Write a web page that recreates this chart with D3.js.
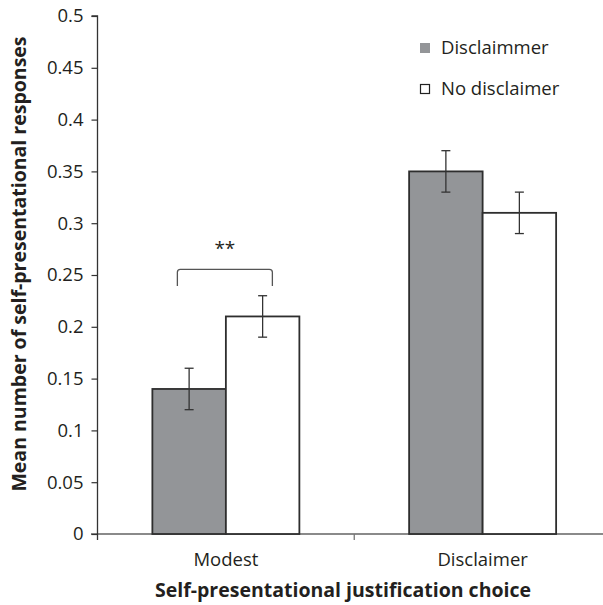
<!DOCTYPE html>
<html>
<head>
<meta charset="utf-8">
<script src="https://cdn.jsdelivr.net/npm/d3@7"></script>
<style>
  html, body { margin: 0; padding: 0; background: #fff; }
  svg { display: block; font-family: "Open Sans", "Noto Sans", sans-serif; }
</style>
</head>
<body>
<svg id="chart" width="603" height="605"></svg>
<script>
// Categories, groups and means with their error margins
const categories = ["Modest", "Disclaimer"];
const groups = ["Disclaimmer", "No disclaimer"];
const disclaimerMeans = [0.14, 0.35];
const noDisclaimerMeans = [0.21, 0.31];
const disclaimerErr = [0.02, 0.02];
const noDisclaimerErr = [0.02, 0.02];
const yTicks = [0, 0.05, 0.1, 0.15, 0.2, 0.25, 0.3, 0.35, 0.4, 0.45, 0.5];
const yTickLabels = ["0", "0.05", "0.1", "0.15", "0.2", "0.25", "0.3", "0.35", "0.4", "0.45", "0.5"];

const rows = categories.map((c, i) => ({
  category: c,
  values: [
    { group: groups[0], mean: disclaimerMeans[i], err: disclaimerErr[i] },
    { group: groups[1], mean: noDisclaimerMeans[i], err: noDisclaimerErr[i] }
  ]
}));

const svg = d3.select("#chart");
const fills = { [groups[0]]: "#939598", [groups[1]]: "#ffffff" };
const textColor = "#231f20";
const labelSize = 18.5;
const titleSize = 19.5;

const x0 = d3.scaleBand().domain(categories).range([97.5, 611]).paddingInner(0).paddingOuter(0);
const groupWidth = 147;
const x1 = d3.scaleBand().domain(groups).range([0, groupWidth]);
const y = d3.scaleLinear().domain([0, 0.5]).range([534, 16]);

// X axis line with category separators
const xAxisG = svg.append("g").attr("transform", "translate(0,534)");
xAxisG.append("line").attr("x1", 91).attr("x2", 611).attr("stroke", "#8a8a8a").attr("stroke-width", 2);
const separators = [x0.range()[0], x0(categories[1])];
xAxisG.selectAll("line.sep").data(separators).join("line")
  .attr("class", "sep")
  .attr("x1", d => d).attr("x2", d => d)
  .attr("y1", 0).attr("y2", 6)
  .attr("stroke", (d, i) => i === 0 ? "#333" : "#777").attr("stroke-width", 1.3);

// Category labels
svg.selectAll("text.cat").data(categories).join("text")
  .attr("class", "cat")
  .attr("x", d => x0(d) + x0.bandwidth() / 2)
  .attr("y", 566)
  .attr("text-anchor", "middle")
  .attr("font-size", labelSize)
  .attr("fill", textColor)
  .text(d => d);

// Y axis
const yAxis = d3.axisLeft(y).tickValues(yTicks).tickFormat((d, i) => yTickLabels[i]).tickSize(6).tickPadding(8);
const yAxisG = svg.append("g").attr("transform", "translate(97.5,0)").call(yAxis);
yAxisG.select(".domain").attr("stroke", "#333").attr("stroke-width", 1.3).attr("d", "M-6,16H0V534");
yAxisG.selectAll(".tick line").attr("stroke", "#333").attr("stroke-width", 1.2);
yAxisG.selectAll(".tick text").attr("font-size", labelSize).attr("fill", textColor)
  .attr("font-family", "\"Open Sans\", sans-serif");

// Bars
const barG = svg.append("g");
const cat = barG.selectAll("g.cat").data(rows).join("g")
  .attr("class", "cat")
  .attr("transform", d => `translate(${x0(d.category) + (x0.bandwidth() - groupWidth) / 2},0)`);

cat.selectAll("rect").data(d => d.values).join("rect")
  .attr("x", d => x1(d.group))
  .attr("y", d => y(d.mean))
  .attr("width", x1.bandwidth())
  .attr("height", d => y(0) - y(d.mean))
  .attr("fill", d => fills[d.group])
  .attr("stroke", "#2e2e2e")
  .attr("stroke-width", 1.8);

// Error bars
const eb = cat.selectAll("g.err").data(d => d.values).join("g")
  .attr("class", "err")
  .attr("transform", d => `translate(${x1(d.group) + x1.bandwidth() / 2},0)`);
eb.append("line")
  .attr("y1", d => y(d.mean - d.err)).attr("y2", d => y(d.mean + d.err))
  .attr("stroke", "#333").attr("stroke-width", 1.3);
eb.selectAll("line.cap").data(d => [d.mean - d.err, d.mean + d.err]).join("line")
  .attr("class", "cap")
  .attr("x1", -4.5).attr("x2", 4.5)
  .attr("y1", d => y(d)).attr("y2", d => y(d))
  .attr("stroke", "#333").attr("stroke-width", 1.3);

// Significance bracket over the Modest pair
const bx = x0(categories[0]) + (x0.bandwidth() - groupWidth) / 2;
const bLeft = bx + x1(groups[0]) + 25;
const bRight = bx + x1(groups[1]) + x1.bandwidth() - 27;
const bTop = y(0.2555);
const bBot = y(0.2395);
svg.append("path")
  .attr("d", `M${bLeft},${bBot} V${bTop + 3} Q${bLeft},${bTop} ${bLeft + 3},${bTop} H${bRight - 3} Q${bRight},${bTop} ${bRight},${bTop + 3} V${bBot}`)
  .attr("fill", "none").attr("stroke", "#555").attr("stroke-width", 1.3);
svg.append("text")
  .attr("x", (bLeft + bRight) / 2).attr("y", 255)
  .attr("text-anchor", "middle")
  .attr("font-size", 19).attr("fill", textColor)
  .text("**");

// Legend
const legend = svg.append("g");
const items = legend.selectAll("g").data(groups).join("g")
  .attr("transform", (d, i) => `translate(420,${43 + i * 41})`);
items.append("rect")
  .attr("x", (d, i) => i === 0 ? 0 : 0.5)
  .attr("y", (d, i) => i === 0 ? 0 : 0.5)
  .attr("width", (d, i) => i === 0 ? 10 : 9)
  .attr("height", (d, i) => i === 0 ? 10 : 9)
  .attr("fill", d => fills[d])
  .attr("stroke", (d, i) => i === 0 ? "none" : "#222")
  .attr("stroke-width", 1.2);
items.append("text")
  .attr("x", 21).attr("y", 11)
  .attr("font-size", labelSize).attr("fill", textColor)
  .text(d => d);

// Axis titles
svg.append("text")
  .attr("x", 343).attr("y", 597)
  .attr("text-anchor", "middle")
  .attr("font-size", titleSize).attr("font-weight", "bold").attr("fill", textColor)
  .text("Self-presentational justification choice");
svg.append("text")
  .attr("transform", "translate(26,264) rotate(-90)")
  .attr("text-anchor", "middle")
  .attr("font-size", titleSize).attr("font-weight", "bold").attr("fill", textColor)
  .text("Mean number of self-presentational responses");
</script>
</body>
</html>
